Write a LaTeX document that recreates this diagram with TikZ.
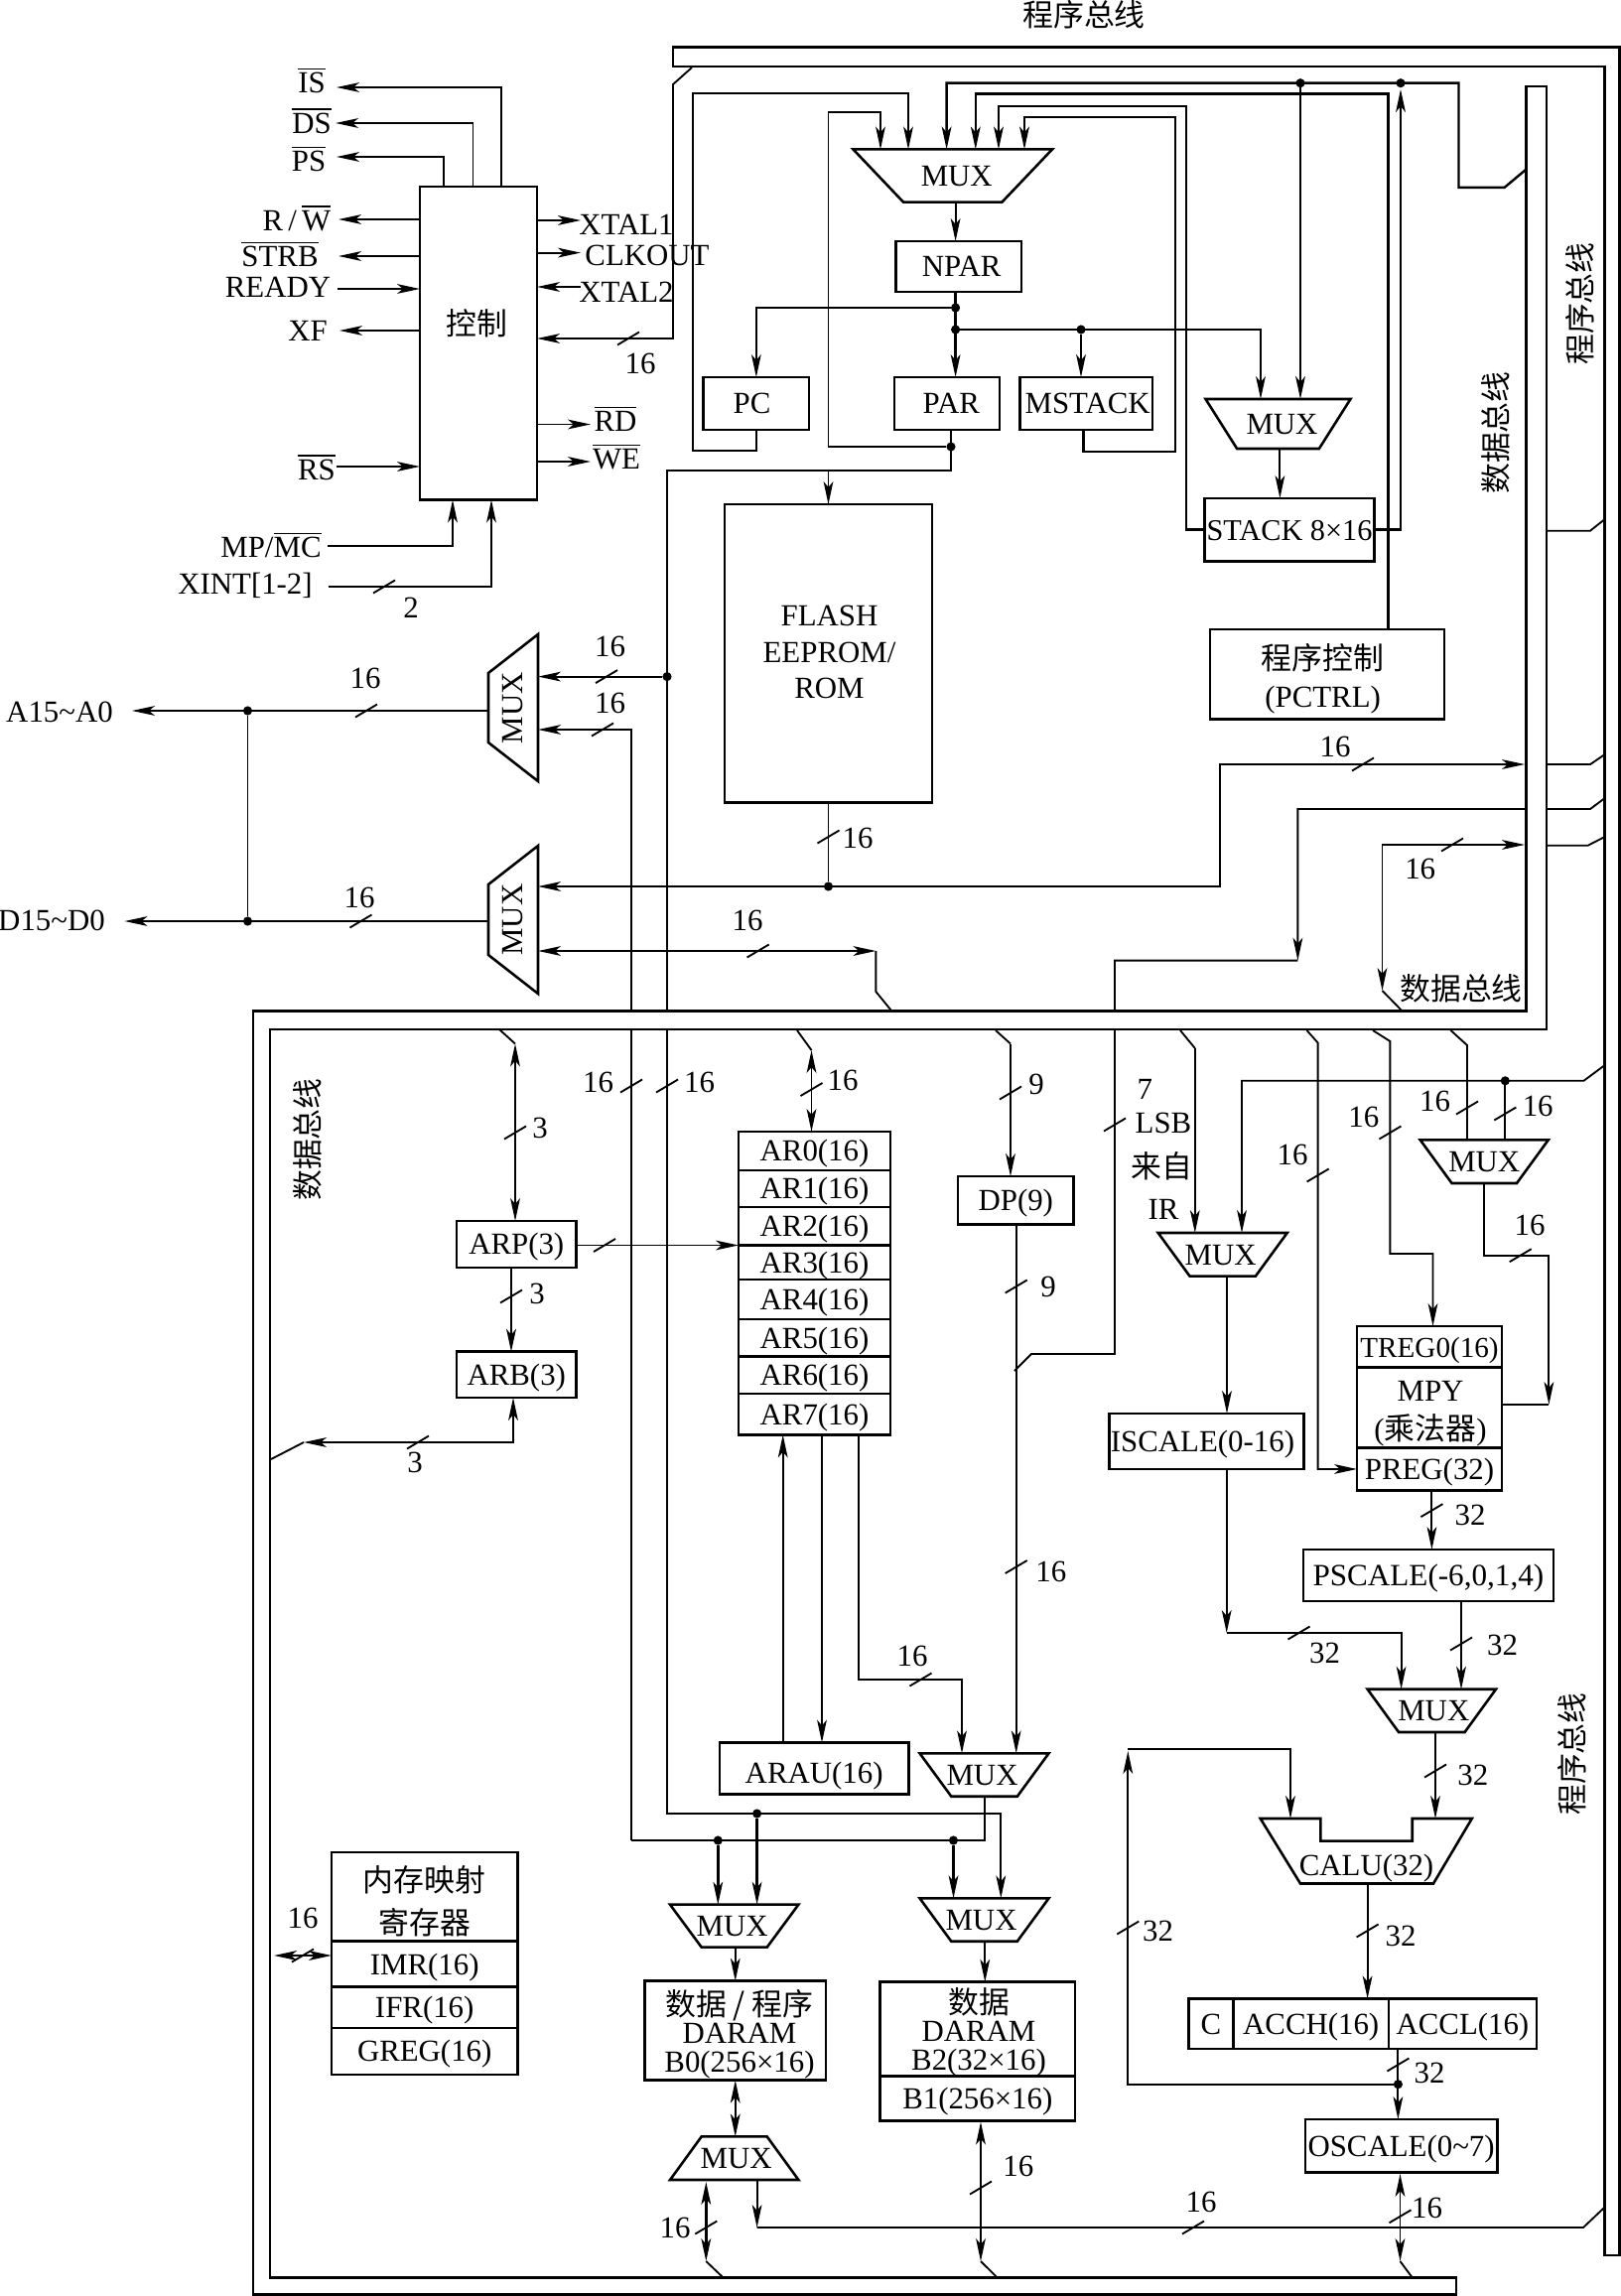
\documentclass[tikz,border=0pt]{standalone}
\usepackage{fontspec}
\setmainfont{Liberation Serif}
\newfontfamily\cjk{Noto Sans CJK SC}
\usetikzlibrary{arrows.meta}
\newcommand{\ovl}[1]{$\overline{\mbox{#1}}$}
\newcommand{\fs}[1]{\fontsize{#1}{12}\selectfont}
\newcommand{\wtick}[2]{\draw[wire] (#1-11,#2+6.5) -- (#1+11,#2-6.5);}
% name, centre x, centre y, wide side, slant, height, text offset
\newcommand{\muxdn}[7]{
  \node (#1) [muxcell={#4}{#6}] at (#2,#3) {};
  \draw[boxline] (#1.north west) -- (#1.north east) -- ([xshift=-#5*0.35pt]#1.south east) -- ([xshift=#5*0.35pt]#1.south west) -- cycle;
  \node (#1text) [celltext] at ([xshift=#7*0.35pt]#1.center) {MUX};
}
\newcommand{\muxup}[7]{
  \node (#1) [muxcell={#4}{#6}] at (#2,#3) {};
  \draw[boxline] (#1.south west) -- (#1.south east) -- ([xshift=-#5*0.35pt]#1.north east) -- ([xshift=#5*0.35pt]#1.north west) -- cycle;
  \node (#1text) [celltext] at ([xshift=#7*0.35pt]#1.center) {MUX};
}
\newcommand{\muxlf}[6]{
  \node (#1) [muxcell={#6}{#4}] at (#2,#3) {\rotatebox{90}{MUX}};
  \draw[boxline] (#1.north east) -- (#1.south east) -- ([yshift=#5*0.35pt]#1.south west) -- ([yshift=-#5*0.35pt]#1.north west) -- cycle;
}
\tikzset{
  >={Stealth[length=8pt,width=3.4pt,inset=2pt]},
  every node/.style={font=\fs{10.8},inner sep=0pt,outer sep=0pt},
  wire/.style={line width=0.65pt},
  heavy/.style={line width=0.85pt},
  boxline/.style={line width=0.9pt},
  celltext/.style={text height=7.3pt,text depth=0pt},
  regm/.style 2 args={draw,boxline,rectangle,minimum width=#1*0.35pt,minimum height=#2*0.35pt},
  reg/.style 2 args={regm={#1}{#2},celltext},
  muxcell/.style 2 args={rectangle,minimum width=#1*0.35pt,minimum height=#2*0.35pt},
  dot/.style={circle,fill=black,minimum size=3.2pt},
  busline/.style={draw,fill=white,line width=0.9pt},
}
\begin{document}
\begin{tikzpicture}[x=0.35pt,y=-0.35pt,wire]
\useasboundingbox (0,0) rectangle (1633,2313);

% control block and its pins
\node (ctrl) [regm={118}{315.5}] at (482,345.8) {};
\node (ctrltext) at (480,326) {\cjk 控制};
\node (lis) at (314,81) {\ovl{IS}};
\node (lds) at (314,121.5) {\ovl{DS}};
\node (lps) at (311,160) {\ovl{PS}};
\node (lrw) at (299,219.5) {R\,/\,\ovl{W}};
\node (lstrb) at (282,256) {\ovl{STRB}};
\node (lready) at (280,289) {READY};
\node (lxf) at (310,333) {XF};
\node (lrs) at (319,470.5) {\ovl{RS}};
\node (lmp) at (273,549) {MP/\ovl{MC}};
\node (lxint) at (247,590) {XINT[1-2]};
\node (lx1) at (631,226) {XTAL1};
\node (lclk) at (652,257) {CLKOUT};
\node (lx2) at (631,294) {XTAL2};
\node (lrd) at (620,421.5) {\ovl{RD}};
\node (lwe) at (621,460) {\ovl{WE}};
\coordinate (isp) at (339,88);
\coordinate (dsp) at (338,124);
\coordinate (psp) at (339,158);
\coordinate (rwp) at (341,221);
\coordinate (stp) at (341,258);
\coordinate (rdy) at (340,291);
\coordinate (xfp) at (342,333);
\coordinate (rsp) at (339,470);
\coordinate (mpc) at (329.5,550);
\coordinate (xic) at (330.5,591);
\coordinate (xt1) at (585,222);
\coordinate (clk) at (585,254.6);
\coordinate (xt2) at (585,289);
\coordinate (rdp) at (595,427.5);
\coordinate (wep) at (595,465);
\draw[->] (505,0 |- ctrl.north) |- (isp);
\draw[->] (476.5,0 |- ctrl.north) |- (dsp);
\draw[->] (447,0 |- ctrl.north) |- (psp);
\draw[->] (ctrl.west |- rwp) -- (rwp);
\draw[->] (ctrl.west |- stp) -- (stp);
\draw[->] (rdy) -- (ctrl.west |- rdy);
\draw[->] (ctrl.west |- xfp) -- (xfp);
\draw[->] (rsp) -- (ctrl.west |- rsp);
\draw[->] (mpc) -| (456,0 |- ctrl.south);
\draw[->] (xic) -| (495,0 |- ctrl.south);
\draw[->] (ctrl.east |- xt1) -- (xt1);
\draw[->] (ctrl.east |- clk) -- (clk);
\draw[->] (xt2) -- (ctrl.east |- xt2);
\draw[->] (ctrl.east |- rdp) -- (rdp);
\draw[->] (ctrl.east |- wep) -- (wep);
\draw[->] (697,68) -- (678,85) |- (ctrl.east |- 0,341);

% program address section
\muxdn{muxp}{959.75}{177}{200.5}{50.5}{53.1}{4}
\node (npar) [reg={126.5}{51}] at (965.75,268.5) {\hspace*{2pt}NPAR};
\node (pc) [reg={106.3}{53}] at (761.85,406.5) {PC\hspace*{3pt}};
\node (par) [reg={106}{53}] at (954,406.5) {\hspace*{3pt}PAR};
\node (mstack) [reg={133.6}{53}] at (1094.2,406.5) {\hspace*{1pt}MSTACK};
\muxdn{muxs}{1287.5}{427}{146}{31.65}{50}{4}
\node (stack) [reg={171}{63.3}] at (1299,533.6) {\fs{10.6}STACK 8×16};
\node (pctrl) [regm={236}{90.5}] at (1337,679.25) {};
\node (pctrltext) [align=center] at (1332.6,683.7) {{\cjk 程序控制}\\[1pt](PCTRL)};
\node (flash) [regm={209}{300.6}] at (834.5,658.3) {};
\node (flashtext) [align=center] at (835.5,657) {FLASH\\[0.8pt]EEPROM/\\[0.8pt]ROM};
\node (dnp) [dot] at (962.6,310) {};
\node (dns) [dot] at (962.6,332) {};
\node (dms) [dot] at (1089,332) {};
\node (parj) [dot] at (958,450) {};
\node (dtop) [dot] at (1310,83.7) {};
\node (dtip) [dot] at (1411,83.7) {};
\draw[->] (962.6,0 |- muxp.south) -- (962.6,0 |- npar.north);
\draw[->,heavy] (962.6,0 |- npar.south) -- (962.6,0 |- par.north);
\draw[->] (dnp) -| (pc.north);
\draw[->] (dns) -| (1270,0 |- muxs.north);
\draw[->,heavy] (dms) -- (dms |- mstack.north);
\draw[->,heavy] (dtop) -- (dtop |- muxs.north);
\draw[->] (1289.4,0 |- muxs.south) -- (1289.4,0 |- stack.north);
\draw[->] (pc.south) |- (698,453.6) |- (915,94.4) -- (915,0 |- muxp.north);
\draw[->] (parj) -- (834.5,450) |- (887,113) -- (887,0 |- muxp.north);
\draw[->] (flash.north |- 0,474) -- (flash.north);
\draw[->,heavy] (1537,171) -- (1515.7,188.8) -- (1469.5,188.8) |- (953.6,83.7) -- (953.6,0 |- muxp.north);
\draw[->,heavy] (1398.3,0 |- pctrl.north) |- (982.8,94.4) -- (982.8,0 |- muxp.north);
\draw[->,heavy] (stack.west) -- (1195,0 |- stack.west) |- (1006,107) -- (1006,0 |- muxp.north);
\draw[->,heavy] (1091.7,0 |- mstack.south) |- (1184,455) |- (1032,118) -- (1032,0 |- muxp.north);
\draw[->,heavy] (stack.east) -| (1411,90);

% address and data pins
\muxlf{muxa1}{517}{713}{148}{39}{50}
\muxlf{muxd1}{517}{926.5}{149}{39}{50}
\node (laddr) at (60,717) {A15\textasciitilde A0};
\node (ldata) at (52,927) {D15\textasciitilde D0};
\node (dad) [dot] at (249.5,716) {};
\node (ddd) [dot] at (249.5,928) {};
\node (dpa) [dot] at (672,681.6) {};
\node (dfl) [dot] at (834.5,893) {};
\coordinate (app) at (133,716);
\coordinate (dpp) at (125.5,928);
\draw[->] (muxa1.west |- dad) -- (app);
\draw[->] (muxd1.west |- ddd) -- (dpp);
\draw (dad) -- (ddd);
\draw[->] (dpa) -- (muxa1.east |- dpa);
\draw[->] (636,1854) -- (636,735) -- (muxa1.east |- 0,735);
\draw (flash.south) -- (dfl);
\draw[->] (dfl) -- (muxd1.east |- dfl);
\draw[->] (dfl) -| (1229,770) -- (1536,770);
\draw[<->] (muxd1.east |- 0,958) -- (882.4,958);
\draw (882.4,958) -- (882.4,999) -- (898.3,1018.5);
\draw[->] (1616.7,804) -- (1602,815) -- (1307.4,815) -- (1307.4,967.6);
\draw (1307.4,967.6) -- (1123,967.6) -- (1123,1364) -- (1039,1364) -- (1022,1381);
\draw[<->] (1536,851) -- (1392.5,851) -- (1392.5,998);
\draw (1392.5,998) -- (1412.6,1018.5);
\draw (1558,770) -- (1602,770) -- (1616.7,760);
\draw (1558,851.7) -- (1599.7,851.7) -- (1616.7,843);
\draw (1558,534.7) -- (1602,534.7) -- (1616.7,523);

% auxiliary registers
\node (arp) [reg={120.5}{47}] at (520.25,1253.5) {ARP(3)};
\node (arb) [reg={120.5}{46.3}] at (520.25,1384.85) {ARB(3)};
\node (ar0) [reg={153}{39}] at (820.5,1159.5) {AR0(16)};
\node (ar1) [reg={153}{37}] at (820.5,1197.5) {AR1(16)};
\node (ar2) [reg={153}{38.5}] at (820.5,1235.25) {AR2(16)};
\node (ar3) [reg={153}{34.5}] at (820.5,1271.75) {AR3(16)};
\node (ar4) [reg={153}{40}] at (820.5,1309) {AR4(16)};
\node (ar5) [reg={153}{37.5}] at (820.5,1347.75) {AR5(16)};
\node (ar6) [reg={153}{37.5}] at (820.5,1385.25) {AR6(16)};
\node (ar7) [reg={153}{41.5}] at (820.5,1424.75) {AR7(16)};
\node (arau) [reg={190.3}{51.8},text height=10.3pt] at (820.15,1781.4) {ARAU(16)};
\node (dp) [reg={116.6}{48.7}] at (1023.3,1209.35) {DP(9)};
\coordinate (arpd) at (519,1051.5);
\coordinate (ar0d) at (817.5,1058);
\coordinate (dpd) at (1018,1051.5);
\draw (503,1037) -- (arpd);
\draw[<->] (arpd) -- (arpd |- arp.north);
\draw[->] (arp.east |- ar3.north west) -- (ar3.north west);
\draw[->,heavy] (515,0 |- arp.south) -- (515,0 |- arb.north);
\draw[<->] (517,0 |- arb.south) |- (306,1453);
\draw (306,1453) -- (273,1470);
\draw (803,1038) -- (ar0d);
\draw[<->] (ar0d) -- (ar0d |- ar0.north);
\draw (1003,1038) -- (dpd);
\draw[->] (dpd) -- (dpd |- dp.north);
\draw[->] (788.7,0 |- arau.north) -- (788.7,0 |- ar7.south);
\draw[->] (828,0 |- ar7.south) -- (828,0 |- arau.north);

% data memory blocks
\muxdn{muxa}{991.55}{1788}{130}{31.75}{43.4}{-2}
\muxdn{muxb}{991.55}{1934}{130}{31.75}{43.4}{-3}
\muxdn{muxd}{739.7}{1940.15}{129.4}{31.7}{43}{-2}
\muxup{muxe}{739.7}{2174.2}{129.4}{31.7}{43.6}{2}
\node (b0) [regm={182.3}{100.1}] at (740.75,2045.65) {};
\node (b0text) [align=center] at (745,2049) {{\cjk 数据 / 程序}\\[-2pt]DARAM\\[-2pt]B0(256×16)};
\node (b2) [regm={196.4}{94.7}] at (984.8,2044) {};
\node (b2text) [align=center] at (986,2047) {{\cjk 数据}\\[-2pt]DARAM\\[-2pt]B2(32×16)};
\node (b1) [reg={196.4}{45.3}] at (984.8,2114) {B1(256×16)};
\node (mem) [regm={187.4}{89.7}] at (427.7,1910.85) {};
\node (memtext) [align=center] at (427.7,1915) {{\cjk 内存映射}\\[3pt]{\cjk 寄存器}};
\node (imr) [reg={187.4}{45.8}] at (427.7,1978.6) {IMR(16)};
\node (ifr) [reg={187.4}{41.5}] at (427.7,2022.25) {IFR(16)};
\node (greg) [reg={187.4}{46.8}] at (427.7,2066.4) {GREG(16)};
\node (dzero) [dot] at (723.3,1854) {};
\node (done) [dot] at (762.6,1827) {};
\node (dtwo) [dot] at (960.5,1854) {};
\draw[->] (parj |- par.south) |- (672,474) |- (1008.3,1827) -- (1008.3,0 |- muxb.north);
\draw (636,1854) -| (992.3,0 |- muxa.south);
\draw[->] (1023.7,0 |- dp.south) -- (1023.7,0 |- muxa.north);
\draw[->] (864.8,0 |- ar7.south) |- (969,1692) -- (969,0 |- muxa.north);
\draw[->,heavy] (dzero) -- (dzero |- muxd.north);
\draw[->,heavy] (done) -- (done |- muxd.north);
\draw[->,heavy] (dtwo) -- (dtwo |- muxb.north);
\draw[->] (992.3,0 |- muxb.south) -- (992.3,0 |- b2.north);
\draw[->] (muxd.south -| b0.north) -- (b0.north);
\draw[<->,heavy] (b0.south) -- (b0.south |- muxe.north);
\draw[<->,heavy] (711.3,2198) -- (711.3,2278);
\draw (711.3,2278) -- (728.5,2294.4);
\draw[->] (762.6,0 |- muxe.south) -- (762.6,2244);
\draw (762.6,2244) -- (1595,2244) -- (1615.6,2224.4);
\draw[<->] (988,2137.6) -- (988,2278);
\draw (988,2278) -- (1004.6,2294.4);
\draw[<->,heavy] (276,1970) -- (imr.west |- 0,1970);

% multiplier path
\muxdn{muxi}{1231.7}{1263.8}{130}{31.85}{43.6}{-2}
\muxdn{muxt}{1495.25}{1170.2}{129}{31.8}{43.6}{0}
\node (iscale) [reg={196}{56}] at (1215.75,1452) {ISCALE(0-16)\hspace*{3pt}};
\node (treg) [reg={146}{41.7}] at (1440,1356.85) {\fs{10.2}TREG0(16)};
\node (mpy) [regm={146}{80.9}] at (1440,1418.15) {};
\node (mpytext) [align=center] at (1441,1424) {MPY\\[1.5pt]({\cjk 乘法器})};
\node (preg) [reg={146}{42.7}] at (1440,1479.95) {PREG(32)};
\node (pscale) [reg={252.2}{52}] at (1438.9,1587) {\fs{10.9}PSCALE(-6,0,1,4)};
\node (dm4) [dot] at (1516.3,1088.8) {};
\draw (1189,1038) -- (1203.8,1056);
\draw[->] (1203.8,1056) -- (1203.8,0 |- muxi.north);
\draw[->] (1616.7,1073) -- (1595.4,1088.8) -- (1251,1088.8) -- (1251,0 |- muxi.north);
\draw[->] (1236,0 |- muxi.south) -- (1236,0 |- iscale.north);
\draw[->] (1316.5,1038) -- (1327.6,1050.5) |- (preg.west);
\draw[->] (1383,1038) -- (1400.4,1049) |- (1443.5,1263) -- (1443.5,0 |- treg.north);
\draw (1461.5,1038) -- (1478,1053) -- (1478,0 |- muxt.north);
\draw (dm4) -- (dm4 |- muxt.north);
\draw[->] (muxt.south) |- (1560.4,1264.7) -- (1560.4,1415);
\draw (mpy.east |- 0,1415) -- (1560.4,1415);
\draw[->] (1442.4,0 |- preg.south) -- (1442.4,0 |- pscale.north);

% accumulator path
\muxdn{muxc}{1442.3}{1723.35}{129.4}{31.45}{43.3}{2}
\draw[boxline] (1269.7,1832) -- (1330.3,1832) -- (1330.3,1854.6) -- (1422.7,1854.6) -- (1422.7,1832)
  -- (1482.8,1832) -- (1444,1897.5) -- (1310,1897.5) -- cycle;
\node (calu) [celltext] at (1376.5,1879) {CALU(32)};
\coordinate (calul) at (1300,1832);
\coordinate (calur) at (1446,1832);
\coordinate (calub) at (1377.6,1897.5);
\node (cflag) [reg={45.1}{50.6}] at (1220,2038.7) {C};
\node (acch) [reg={156.2}{50.6}] at (1320.7,2038.7) {ACCH(16)};
\node (accl) [reg={149.2}{50.6}] at (1473.4,2038.7) {ACCL(16)};
\node (oscale) [reg={193.4}{53.4}] at (1411.6,2161.7) {OSCALE(0\textasciitilde 7)};
\node (dacc) [dot] at (1408.4,2099.7) {};
\draw[->] (1235.7,0 |- iscale.south) -- (1235.7,1645);
\draw[->] (1235.7,1645) -- (1411.6,1645) -- (1411.6,0 |- muxc.north);
\draw[->] (1472,0 |- pscale.south) -- (1472,0 |- muxc.north);
\draw[->] (calur |- muxc.south) -- (calur);
\draw[->] (dacc) -| (1136.3,1764);
\draw[->] (1136.3,1762) -| (calul);
\draw[->] (calub) -- (calub |- acch.north);
\draw[->] (dacc |- accl.south) -- (dacc |- oscale.north);
\draw[<->] (1410.5,2190) -- (1410.5,2278);
\draw (1410.5,2278) -- (1422.7,2294.4);

% bus outlines
\draw[busline] (678,47.5) -- (1631.5,47.5) -- (1631.5,2272) -- (1616.7,2272) -- (1616.7,67) -- (678,67) -- cycle;
\draw[busline] (1537.5,87) -- (1558,87) -- (1558,1037) -- (272,1037) -- (272,2294.4) -- (1467,2294.4) -- (1467,2311.7)
  -- (255,2311.7) -- (255,1018.5) -- (1537.5,1018.5) -- cycle;
\node (lpt) at (1092,15) {\cjk 程序总线};
\node (lpr) [rotate=90] at (1591.7,306) {\cjk 程序总线};
\node (lpb) [rotate=90] at (1583.7,1767) {\cjk 程序总线};
\node (ldr) [rotate=90] at (1506.7,436) {\cjk 数据总线};
\node (ldh) at (1472,995.7) {\cjk 数据总线};
\node (ldl) [rotate=90] at (309.6,1148) {\cjk 数据总线};

% bus widths
\wtick{633}{341} \wtick{387}{591} \wtick{369}{716} \wtick{611}{681.6} \wtick{607}{735}
\wtick{363.5}{928} \wtick{763.6}{958} \wtick{1373}{770} \wtick{834.5}{843} \wtick{1463}{851}
\wtick{519}{1141} \wtick{609}{1254.5} \wtick{515}{1306} \wtick{421}{1453} \wtick{636}{1094}
\wtick{672}{1094} \wtick{817.5}{1097.5} \wtick{1018}{1101} \wtick{1023.7}{1296} \wtick{1123}{1133}
\wtick{1327.6}{1184} \wtick{1400.4}{1141} \wtick{1478}{1116} \wtick{1516.3}{1122} \wtick{1531.7}{1264.7}
\wtick{1442.4}{1521.6} \wtick{1023.7}{1578.5} \wtick{927.5}{1692} \wtick{1308.5}{1645} \wtick{1472}{1656}
\wtick{1446}{1784} \wtick{1136.3}{1942} \wtick{1377.6}{1945} \wtick{1408.4}{2080} \wtick{1410.5}{2232.8}
\wtick{988}{2204} \wtick{1202}{2244} \wtick{711.3}{2244} \wtick{305}{1970}
\node (w1) at (645,366) {16};
\node (w2) at (414,612) {2};
\node (w3) at (368,683) {16};
\node (w4) at (614.5,651) {16};
\node (w5) at (614.5,708) {16};
\node (w6) at (362,904.6) {16};
\node (w7) at (753,927) {16};
\node (w8) at (1345,752) {16};
\node (w9) at (864,844.5) {16};
\node (w10) at (1430.7,875.5) {16};
\node (w11) at (544,1136) {3};
\node (w12) at (541,1303.5) {3};
\node (w13) at (418,1473) {3};
\node (w14) at (602.5,1090) {16};
\node (w15) at (704.5,1090) {16};
\node (w16) at (849,1088) {16};
\node (w17) at (1044,1092.6) {9};
\node (w18) at (1056,1296) {9};
\node (w19) at (1153.3,1097.5) {7};
\node (w20) at (1172,1131.4) {LSB};
\node (w21) at (1170.4,1175) {\cjk 来自};
\node (w22) at (1172,1218.7) {IR};
\node (w23) at (1302,1163) {16};
\node (w24) at (1373.9,1125) {16};
\node (w25) at (1445.6,1109.6) {16};
\node (w26) at (1549.2,1114.5) {16};
\node (w27) at (1541,1234) {16};
\node (w28) at (1481,1526.5) {32};
\node (w29) at (1058.8,1583) {16};
\node (w30) at (919,1668) {16};
\node (w31) at (1334.5,1665.7) {32};
\node (w32) at (1513.6,1657) {32};
\node (w33) at (1483.9,1788) {32};
\node (w34) at (1166.6,1945.8) {32};
\node (w35) at (1411,1950.7) {32};
\node (w36) at (1440,2088.8) {32};
\node (w37) at (1437.6,2224.4) {16};
\node (w38) at (1025.8,2182) {16};
\node (w39) at (1210,2218) {16};
\node (w40) at (680,2244) {16};
\node (w41) at (305,1932) {16};
\end{tikzpicture}
\end{document}
